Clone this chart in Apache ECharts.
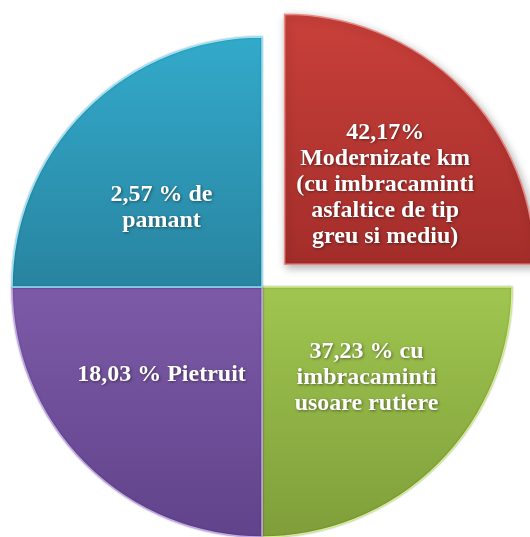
<!DOCTYPE html>
<html>
<head>
<meta charset="utf-8">
<script src="https://cdn.jsdelivr.net/npm/echarts@6/dist/echarts.min.js"></script>
<style>
  html, body { margin: 0; padding: 0; background: #fff; }
  #main { width: 530px; height: 537px; }
</style>
</head>
<body>
<div id="main"></div>
<script>
var myChart = echarts.init(document.getElementById('main'));

// slices in drawing order (clockwise from 12 o'clock)
var labels = [
    '42,17%\nModernizate km\n(cu imbracaminti\nasfaltice de tip\ngreu si mediu)',
    '37,23 % cu\nimbracaminti\nusoare rutiere',
    '18,03 % Pietruit',
    '2,57 % de\npamant'
];
// the picture draws four equal quarters
var values = [25, 25, 25, 25];
var topColors = ['#c9403a', '#a0c650', '#7d5aa8', '#33aacb'];
var bottomColors = ['#a32d2a', '#7f9e3a', '#60438a', '#2884a0'];
var borderColors = ['#e58a84', '#d4f08c', '#c3a6ec', '#8fe6fb'];
var labelOffsets = [[10, 11], [14, 0], [-10, -3], [-10, 11]];

var data = [];
for (var i = 0; i < values.length; i++) {
    data.push({
        name: labels[i],
        value: values[i],
        selected: i === 0,
        itemStyle: {
            color: new echarts.graphic.LinearGradient(0, 0, 0, 1, [
                {offset: 0, color: topColors[i]},
                {offset: 1, color: bottomColors[i]}
            ]),
            borderColor: borderColors[i],
            borderWidth: 1.5,
            shadowBlur: i === 0 ? 8 : 2,
            shadowColor: 'rgba(0,0,0,0.3)',
            shadowOffsetX: i === 0 ? 2 : 0,
            shadowOffsetY: i === 0 ? 3 : 0
        },
        label: {
            offset: labelOffsets[i]
        },
        select: {
            label: { offset: labelOffsets[i] }
        }
    });
}

option = {
    backgroundColor: '#fff',
    animation: false,
    series: [
        {
            type: 'pie',
            center: [262, 287],
            radius: 250,
            startAngle: 90,
            clockwise: true,
            selectedMode: 'single',
            selectedOffset: 32,
            avoidLabelOverlap: false,
            emphasis: { disabled: true },
            label: {
                show: true,
                position: 'inside',
                formatter: '{b}',
                color: '#fff',
                fontFamily: '"Liberation Serif", "Times New Roman", serif',
                fontWeight: 'bold',
                fontSize: 24,
                lineHeight: 26,
                align: 'center',
                textShadowColor: 'rgba(0,0,0,0.45)',
                textShadowBlur: 3,
                textShadowOffsetX: 1,
                textShadowOffsetY: 1
            },
            labelLine: { show: false },
            data: data
        }
    ]
};

myChart.setOption(option);
</script>
</body>
</html>
